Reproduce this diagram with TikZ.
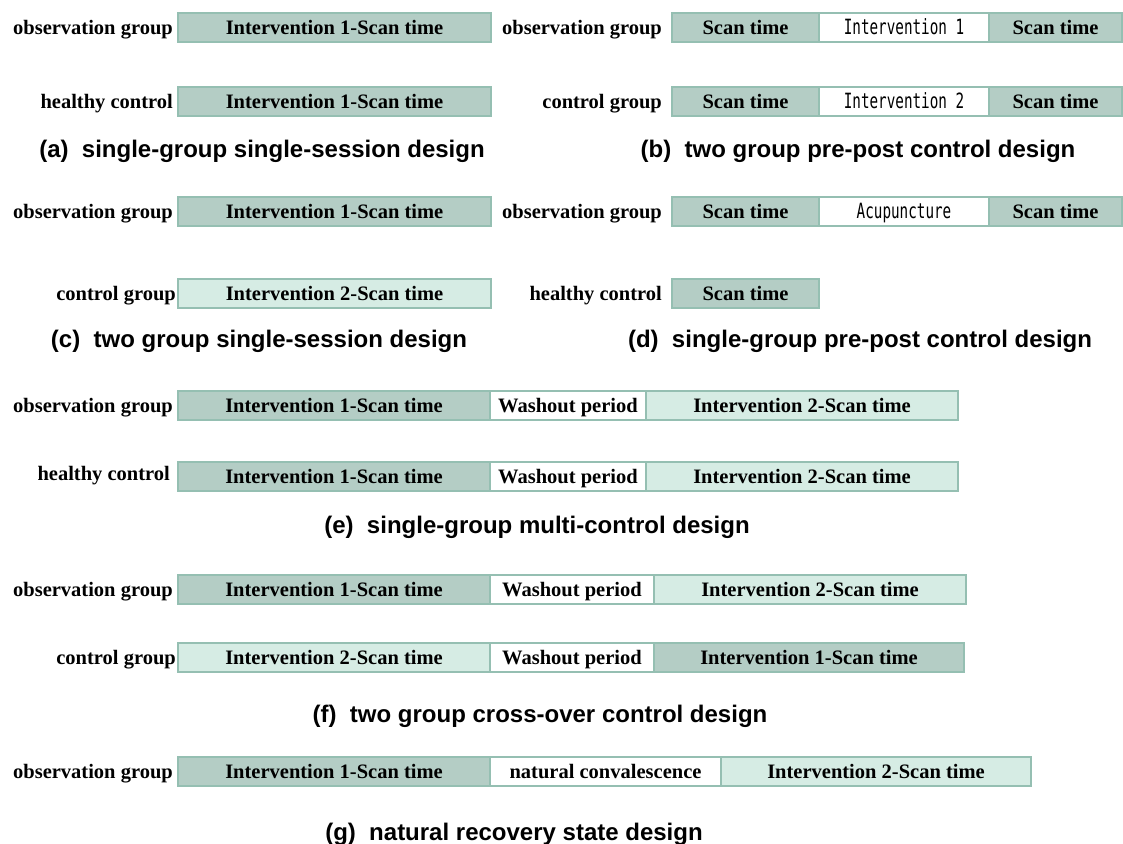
\documentclass[tikz,border=0pt]{standalone}
\usepackage{fontspec}
\usepackage{xcolor}
\usepackage{tikz}
\usetikzlibrary{positioning}
\setmainfont{Liberation Serif}
\newfontfamily\captionfont{Liberation Sans}
\newfontfamily\boxmono[FakeStretch=0.68]{DejaVu Sans Mono}
\definecolor{ScanDark}{HTML}{B4CDC5}
\definecolor{ScanLight}{HTML}{D6ECE4}
\definecolor{ScanEdge}{HTML}{95BFB2}

\begin{document}
\begin{tikzpicture}[
  x=1pt, y=-1pt,
  seg/.style={draw=ScanEdge, line width=1.2pt, outer sep=0pt, inner sep=0pt, minimum height=29pt, text height=14pt, text depth=0pt, font=\bfseries\fontsize{20.5}{24}\selectfont},
  darkseg/.style={seg, fill=ScanDark},
  lightseg/.style={seg, fill=ScanLight},
  whiteseg/.style={seg, fill=white},
  monoseg/.style={whiteseg, font=\boxmono\fontsize{21}{24}\selectfont},
  grp/.style={inner sep=0pt, font=\bfseries\fontsize{20.5}{24}\selectfont},
  captext/.style={inner sep=0pt, font=\captionfont\bfseries\fontsize{24}{28}\selectfont}
]
\useasboundingbox (0,0) rectangle (1123,843);

% (a) single-group single-session
\node[darkseg, minimum width=313pt, anchor=north west] (a1) at (178,13) {Intervention 1-Scan time};
\node[darkseg, minimum width=313pt, anchor=north west] (a2) at (178,87) {Intervention 1-Scan time};
\node[grp, left=5pt of a1.base west, anchor=base east] (a1g) {observation group};
\node[grp, left=5pt of a2.base west, anchor=base east] (a2g) {healthy control};
\node[captext] (capa) at (262,151) {(a)~~single-group single-session design};

% (b) two group pre-post
\node[darkseg, minimum width=147pt, anchor=north west] (b1s) at (672,13) {Scan time};
\node[monoseg, minimum width=170pt, right=0pt of b1s] (b1i) {Intervention 1};
\node[darkseg, minimum width=133pt, right=0pt of b1i] (b1e) {Scan time};
\node[darkseg, minimum width=147pt, anchor=north west] (b2s) at (672,87) {Scan time};
\node[monoseg, minimum width=170pt, right=0pt of b2s] (b2i) {Intervention 2};
\node[darkseg, minimum width=133pt, right=0pt of b2i] (b2e) {Scan time};
\node[grp, left=10pt of b1s.base west, anchor=base east] (b1g) {observation group};
\node[grp, left=10pt of b2s.base west, anchor=base east] (b2g) {control group};
\node[captext] (capb) at (858,151) {(b)~~two group pre-post control design};

% (c) two group single-session
\node[darkseg, minimum width=313pt, anchor=north west] (c1) at (178,197) {Intervention 1-Scan time};
\node[lightseg, minimum width=313pt, anchor=north west] (c2) at (178,279) {Intervention 2-Scan time};
\node[grp, left=5pt of c1.base west, anchor=base east] (c1g) {observation group};
\node[grp, left=2pt of c2.base west, anchor=base east] (c2g) {control group};
\node[captext] (capc) at (259,341) {(c)~~two group single-session design};

% (d) single-group pre-post
\node[darkseg, minimum width=147pt, anchor=north west] (d1s) at (672,197) {Scan time};
\node[monoseg, minimum width=170pt, right=0pt of d1s] (d1i) {Acupuncture};
\node[darkseg, minimum width=133pt, right=0pt of d1i] (d1e) {Scan time};
\node[darkseg, minimum width=147pt, anchor=north west] (d2s) at (672,279) {Scan time};
\node[grp, left=10pt of d1s.base west, anchor=base east] (d1g) {observation group};
\node[grp, left=10pt of d2s.base west, anchor=base east] (d2g) {healthy control};
\node[captext] (capd) at (860,341) {(d)~~single-group pre-post control design};

% (e) single-group multi-control
\node[darkseg, minimum width=312pt, anchor=north west] (e1a) at (178,391) {Intervention 1-Scan time};
\node[whiteseg, minimum width=156pt, right=0pt of e1a] (e1w) {Washout period};
\node[lightseg, minimum width=312pt, right=0pt of e1w] (e1b) {Intervention 2-Scan time};
\node[darkseg, minimum width=312pt, anchor=north west] (e2a) at (178,462) {Intervention 1-Scan time};
\node[whiteseg, minimum width=156pt, right=0pt of e2a] (e2w) {Washout period};
\node[lightseg, minimum width=312pt, right=0pt of e2w] (e2b) {Intervention 2-Scan time};
\node[grp, left=5pt of e1a.base west, anchor=base east] (e1g) {observation group};
\node[grp, left=8pt of e2a.base west, anchor=base east, yshift=3pt] (e2g) {healthy control};
\node[captext] (cape) at (537,527) {(e)~~single-group multi-control design};

% (f) two group cross-over
\node[darkseg, minimum width=312pt, anchor=north west] (f1a) at (178,575) {Intervention 1-Scan time};
\node[whiteseg, minimum width=164pt, right=0pt of f1a] (f1w) {Washout period};
\node[lightseg, minimum width=312pt, right=0pt of f1w] (f1b) {Intervention 2-Scan time};
\node[lightseg, minimum width=312pt, anchor=north west] (f2a) at (178,643) {Intervention 2-Scan time};
\node[whiteseg, minimum width=164pt, right=0pt of f2a] (f2w) {Washout period};
\node[darkseg, minimum width=310pt, right=0pt of f2w] (f2b) {Intervention 1-Scan time};
\node[grp, left=5pt of f1a.base west, anchor=base east] (f1g) {observation group};
\node[grp, left=2pt of f2a.base west, anchor=base east] (f2g) {control group};
\node[captext] (capf) at (540,716) {(f)~~two group cross-over control design};

% (g) natural recovery state
\node[darkseg, minimum width=312pt, anchor=north west] (g1a) at (178,757) {Intervention 1-Scan time};
\node[whiteseg, minimum width=231pt, right=0pt of g1a] (g1n) {natural convalescence};
\node[lightseg, minimum width=310pt, right=0pt of g1n] (g1b) {Intervention 2-Scan time};
\node[grp, left=5pt of g1a.base west, anchor=base east] (g1g) {observation group};
\node[captext] (capg) at (514,834) {(g)~~natural recovery state design};
\end{tikzpicture}
\end{document}
